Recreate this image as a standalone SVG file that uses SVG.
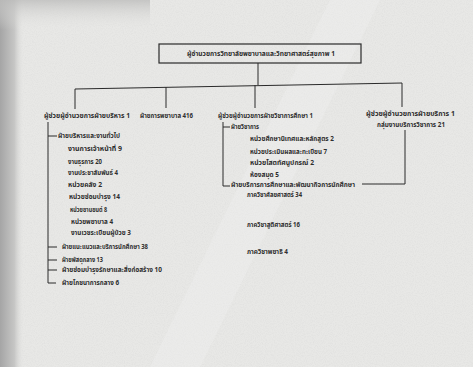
<svg xmlns="http://www.w3.org/2000/svg" width="473" height="367" viewBox="0 0 473 367">
<defs>
<linearGradient id="leftEdge" x1="0" y1="0" x2="1" y2="0">
<stop offset="0" stop-color="#a5a5a5"/>
<stop offset="0.6" stop-color="#c6c6c5"/>
<stop offset="1" stop-color="#e6e6e4" stop-opacity="0"/>
</linearGradient>
<linearGradient id="topCorner" x1="0" y1="0" x2="0" y2="1">
<stop offset="0" stop-color="#bdbdbc"/>
<stop offset="1" stop-color="#e6e6e4" stop-opacity="0"/>
</linearGradient>
<filter id="grain" x="0" y="0" width="100%" height="100%">
<feTurbulence type="fractalNoise" baseFrequency="0.9" numOctaves="2" seed="3" result="n"/>
<feColorMatrix type="matrix" values="0 0 0 0 0.55  0 0 0 0 0.55  0 0 0 0 0.55  0 0 0 -1.2 0.75"/>
</filter>
</defs>
<style>
text{font-family:"Noto Sans Thai","Noto Sans","DejaVu Sans",sans-serif;font-size:6.3px;fill:#2e2e2e;font-weight:bold}
.ln{stroke:#2a2a2a;stroke-width:1;fill:none}
.box{stroke:#2a2a2a;stroke-width:1.2;fill:none}
</style>
<rect x="0" y="0" width="473" height="367" fill="#e8e8e6"/>
<rect x="0" y="0" width="473" height="367" filter="url(#grain)" opacity="0.3"/>
<rect x="0" y="0" width="24" height="367" fill="url(#leftEdge)"/>
<rect x="0" y="0" width="150" height="30" fill="url(#topCorner)" opacity="0.8"/>
<path d="M150 367 L330 0 L380 0 L200 367 Z" fill="#f2f2f0" opacity="0.35"/>

<g id="connectors">
<line class="ln" x1="258" y1="63" x2="258" y2="85"/>
<line class="ln" x1="75" y1="89" x2="402" y2="83"/>
<line class="ln" x1="75" y1="89" x2="75" y2="109"/>
<line class="ln" x1="166" y1="87" x2="166" y2="108"/>
<line class="ln" x1="255" y1="85" x2="255" y2="108"/>
<line class="ln" x1="402" y1="83" x2="402" y2="107"/>
<polyline class="ln" points="48,122 48,283 56,283"/>
<line class="ln" x1="48" y1="136" x2="57" y2="136"/>
<line class="ln" x1="48" y1="247" x2="57" y2="247"/>
<line class="ln" x1="48" y1="260" x2="57" y2="260"/>
<line class="ln" x1="48" y1="270" x2="57" y2="270"/>
<polyline class="ln" points="223,122 223,186 230,186"/>
<line class="ln" x1="223" y1="127" x2="230" y2="127"/>
<polyline class="ln" points="405,130 405,184 362,184"/>
</g>

<g id="director">
<rect class="box" x="159" y="44" width="202" height="19"/>
<text x="187" y="56" textLength="148" lengthAdjust="spacingAndGlyphs">ผู้อำนวยการวิทยาลัยพยาบาลและวิทยาศาสตร์สุขภาพ 1</text>
</g>

<g id="admin">
<text x="44" y="118" textLength="86" lengthAdjust="spacingAndGlyphs">ผู้ช่วยผู้อำนวยการฝ่ายบริหาร 1</text>
</g>
<g id="nursing">
<text x="140" y="118" textLength="53" lengthAdjust="spacingAndGlyphs">ฝ่ายการพยาบาล 416</text>
</g>
<g id="academic">
<text x="218" y="118" textLength="95" lengthAdjust="spacingAndGlyphs">ผู้ช่วยผู้อำนวยการฝ่ายวิชาการศึกษา 1</text>
</g>
<g id="service">
<text x="366" y="116" textLength="89" lengthAdjust="spacingAndGlyphs">ผู้ช่วยผู้อำนวยการฝ่ายบริการ 1</text>
<text x="377" y="127" textLength="68" lengthAdjust="spacingAndGlyphs">กลุ่มงานบริการวิชาการ 21</text>
</g>

<g id="general-admin">
<text x="58" y="138" textLength="62" lengthAdjust="spacingAndGlyphs">ฝ่ายบริหารและงานทั่วไป</text>
<text x="68" y="151" textLength="54" lengthAdjust="spacingAndGlyphs">งานการเจ้าหน้าที่ 9</text>
<text x="68" y="164" textLength="34" lengthAdjust="spacingAndGlyphs">งานธุรการ 20</text>
<text x="68" y="175" textLength="50" lengthAdjust="spacingAndGlyphs">งานประชาสัมพันธ์ 4</text>
<text x="68" y="187" textLength="34" lengthAdjust="spacingAndGlyphs">หน่วยคลัง 2</text>
<text x="69" y="199" textLength="51" lengthAdjust="spacingAndGlyphs">หน่วยซ่อมบำรุง 14</text>
<text x="70" y="212" textLength="37" lengthAdjust="spacingAndGlyphs">หน่วยยานยนต์ 8</text>
<text x="71" y="224" textLength="42" lengthAdjust="spacingAndGlyphs">หน่วยพยาบาล 4</text>
<text x="71" y="235" textLength="60" lengthAdjust="spacingAndGlyphs">งานเวชระเบียนผู้ป่วย 3</text>
</g>
<g id="guidance">
<text x="62" y="249" textLength="86" lengthAdjust="spacingAndGlyphs">ฝ่ายแนะแนวและบริการนักศึกษา 38</text>
</g>
<g id="supplies">
<text x="62" y="262" textLength="41" lengthAdjust="spacingAndGlyphs">ฝ่ายพัสดุกลาง 13</text>
</g>
<g id="maintenance">
<text x="62" y="272" textLength="100" lengthAdjust="spacingAndGlyphs">ฝ่ายซ่อมบำรุงรักษาและสิ่งก่อสร้าง 10</text>
</g>
<g id="nutrition">
<text x="62" y="285" textLength="57" lengthAdjust="spacingAndGlyphs">ฝ่ายโภชนาการกลาง 6</text>
</g>

<g id="academic-affairs">
<text x="231" y="129" textLength="28" lengthAdjust="spacingAndGlyphs">ฝ่ายวิชาการ</text>
<text x="250" y="141" textLength="84" lengthAdjust="spacingAndGlyphs">หน่วยศึกษานิเทศและหลักสูตร 2</text>
<text x="250" y="154" textLength="77" lengthAdjust="spacingAndGlyphs">หน่วยประเมินผลและทะเบียน 7</text>
<text x="250" y="165" textLength="64" lengthAdjust="spacingAndGlyphs">หน่วยโสตทัศนูปกรณ์ 2</text>
<text x="250" y="177" textLength="29" lengthAdjust="spacingAndGlyphs">ห้องสมุด 5</text>
</g>
<g id="education-services">
<text x="231" y="186.5" textLength="124" lengthAdjust="spacingAndGlyphs">ฝ่ายบริการการศึกษาและพัฒนากิจการนักศึกษา</text>
<text x="247" y="197" textLength="55" lengthAdjust="spacingAndGlyphs">ภาควิชาศัลยศาสตร์ 34</text>
<text x="247" y="227" textLength="53" lengthAdjust="spacingAndGlyphs">ภาควิชาสูติศาสตร์ 16</text>
<text x="247" y="254" textLength="41" lengthAdjust="spacingAndGlyphs">ภาควิชาพยาธิ 4</text>
</g>
</svg>
